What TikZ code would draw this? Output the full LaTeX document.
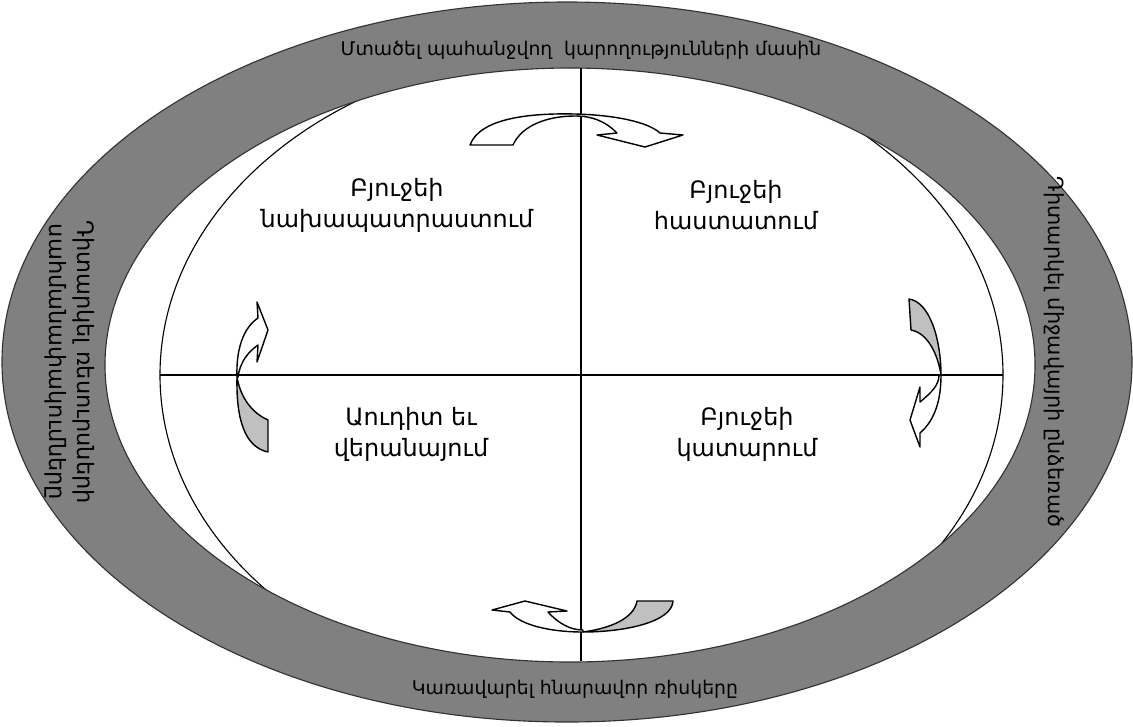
\documentclass[tikz,border=0pt]{standalone}
\usepackage{fontspec}
\setmainfont{DejaVu Sans}
\definecolor{ringgray}{RGB}{128,128,128}
\definecolor{bandgray}{RGB}{192,192,192}
\tikzset{
    ringtext/.style={inner sep=0pt, font=\fontsize{13.4}{16}\selectfont},
    sidetext/.style={inner sep=0pt, align=center, rotate=-90, font=\fontsize{16}{20}\selectfont},
    quadtext/.style={inner sep=0pt, align=center, font=\fontsize{17}{22}\selectfont},
    bandw/.style={fill=white, draw=black, line width=1pt, line join=round},
    bandg/.style={fill=bandgray, draw=black, line width=1pt, line join=round}
}
\begin{document}
\begin{tikzpicture}[x=0.025cm, y=-0.025cm]
    \useasboundingbox (0,0) rectangle (1133,726);

    \coordinate (O) at (567,362);
    \coordinate (H) at (570,365);
    \coordinate (E) at (581.5,375);

    \coordinate (L) at (160,375);
    \coordinate (R) at (1003,375);
    \coordinate (T) at (581,68);
    \coordinate (B) at (581,661);

    \draw[black, line width=0.8pt] (E) ellipse [x radius=421.5, y radius=324];
    \fill[ringgray, even odd rule] (O) ellipse [x radius=565, y radius=360]
        (H) ellipse [x radius=465, y radius=297];
    \draw[black!80, line width=0.8pt] (O) ellipse [x radius=565, y radius=360];
    \draw[black!80, line width=0.8pt] (H) ellipse [x radius=465, y radius=297];

    \draw[black, line width=0.8pt] (L) to (R);
    \draw[black, line width=0.8pt] (T) to (B);

    % top arrow
    \path[bandw] (470,145) .. controls (480,118) and (530,113) .. (575,114)
        .. controls (615,115) and (648,122) .. (660,133) -- (683,135) -- (645,147)
        -- (597,135) -- (617,133) .. controls (605,121) and (592,116) .. (575,116)
        .. controls (548,116) and (522,125) .. (513,145) -- cycle;

    % right arrow
    \path[bandg] (909,299) .. controls (930,302) and (941,340) .. (941,375)
        .. controls (938,355) and (928,333) .. (911,330) -- cycle;
    \path[bandw] (941,375) .. controls (941,400) and (935,420) .. (920,433)
        -- (920,447) -- (910,420) -- (920,387) -- (920,402)
        .. controls (932,392) and (939,385) .. (939,375) -- cycle;

    % bottom arrow
    \path[bandg] (637,601) -- (673,601) .. controls (672,622) and (625,632) .. (583,632)
        .. controls (612,628) and (634,618) .. (637,601) -- cycle;
    \path[bandw] (583,632) .. controls (550,632) and (520,625) .. (510,612)
        -- (492,610) -- (525,601) -- (567,611) -- (548,612)
        .. controls (558,623) and (570,630) .. (583,630) -- cycle;

    % left arrow
    \path[bandg] (268,452) -- (268,420) .. controls (250,412) and (240,395) .. (237,377)
        .. controls (236,420) and (245,447) .. (268,452) -- cycle;
    \path[bandw] (237,377) .. controls (236,350) and (243,328) .. (258,318)
        -- (257,302) -- (268,330) -- (257,362) -- (258,345)
        .. controls (248,352) and (240,362) .. (238,377) -- cycle;

    \node[ringtext] (top) at (581,50) {Մտածել պահանջվող\hspace{0.3em} կարողությունների մասին};
    \node[ringtext] (bottom) at (575,689) {Կառավարել հնարավոր ռիսկերը};
    \node[sidetext] (left) at (70,362) {Դիտարկել ռեսուրսների\\սահմանափակումները};
    \node[sidetext, font=\fontsize{14.8}{18}\selectfont] (right) at (1054,352) {Դիտարկել միջավայրի ընձեռած};

    \node[quadtext] (prep) at (397,205) {Բյուջեի\\նախապատրաստում};
    \node[quadtext] (appr) at (736,205) {Բյուջեի\\հաստատում};
    \node[quadtext] (audit) at (411,434) {Աուդիտ եւ\\վերանայում};
    \node[quadtext] (exec) at (747,434) {Բյուջեի\\կատարում};
\end{tikzpicture}
\end{document}
